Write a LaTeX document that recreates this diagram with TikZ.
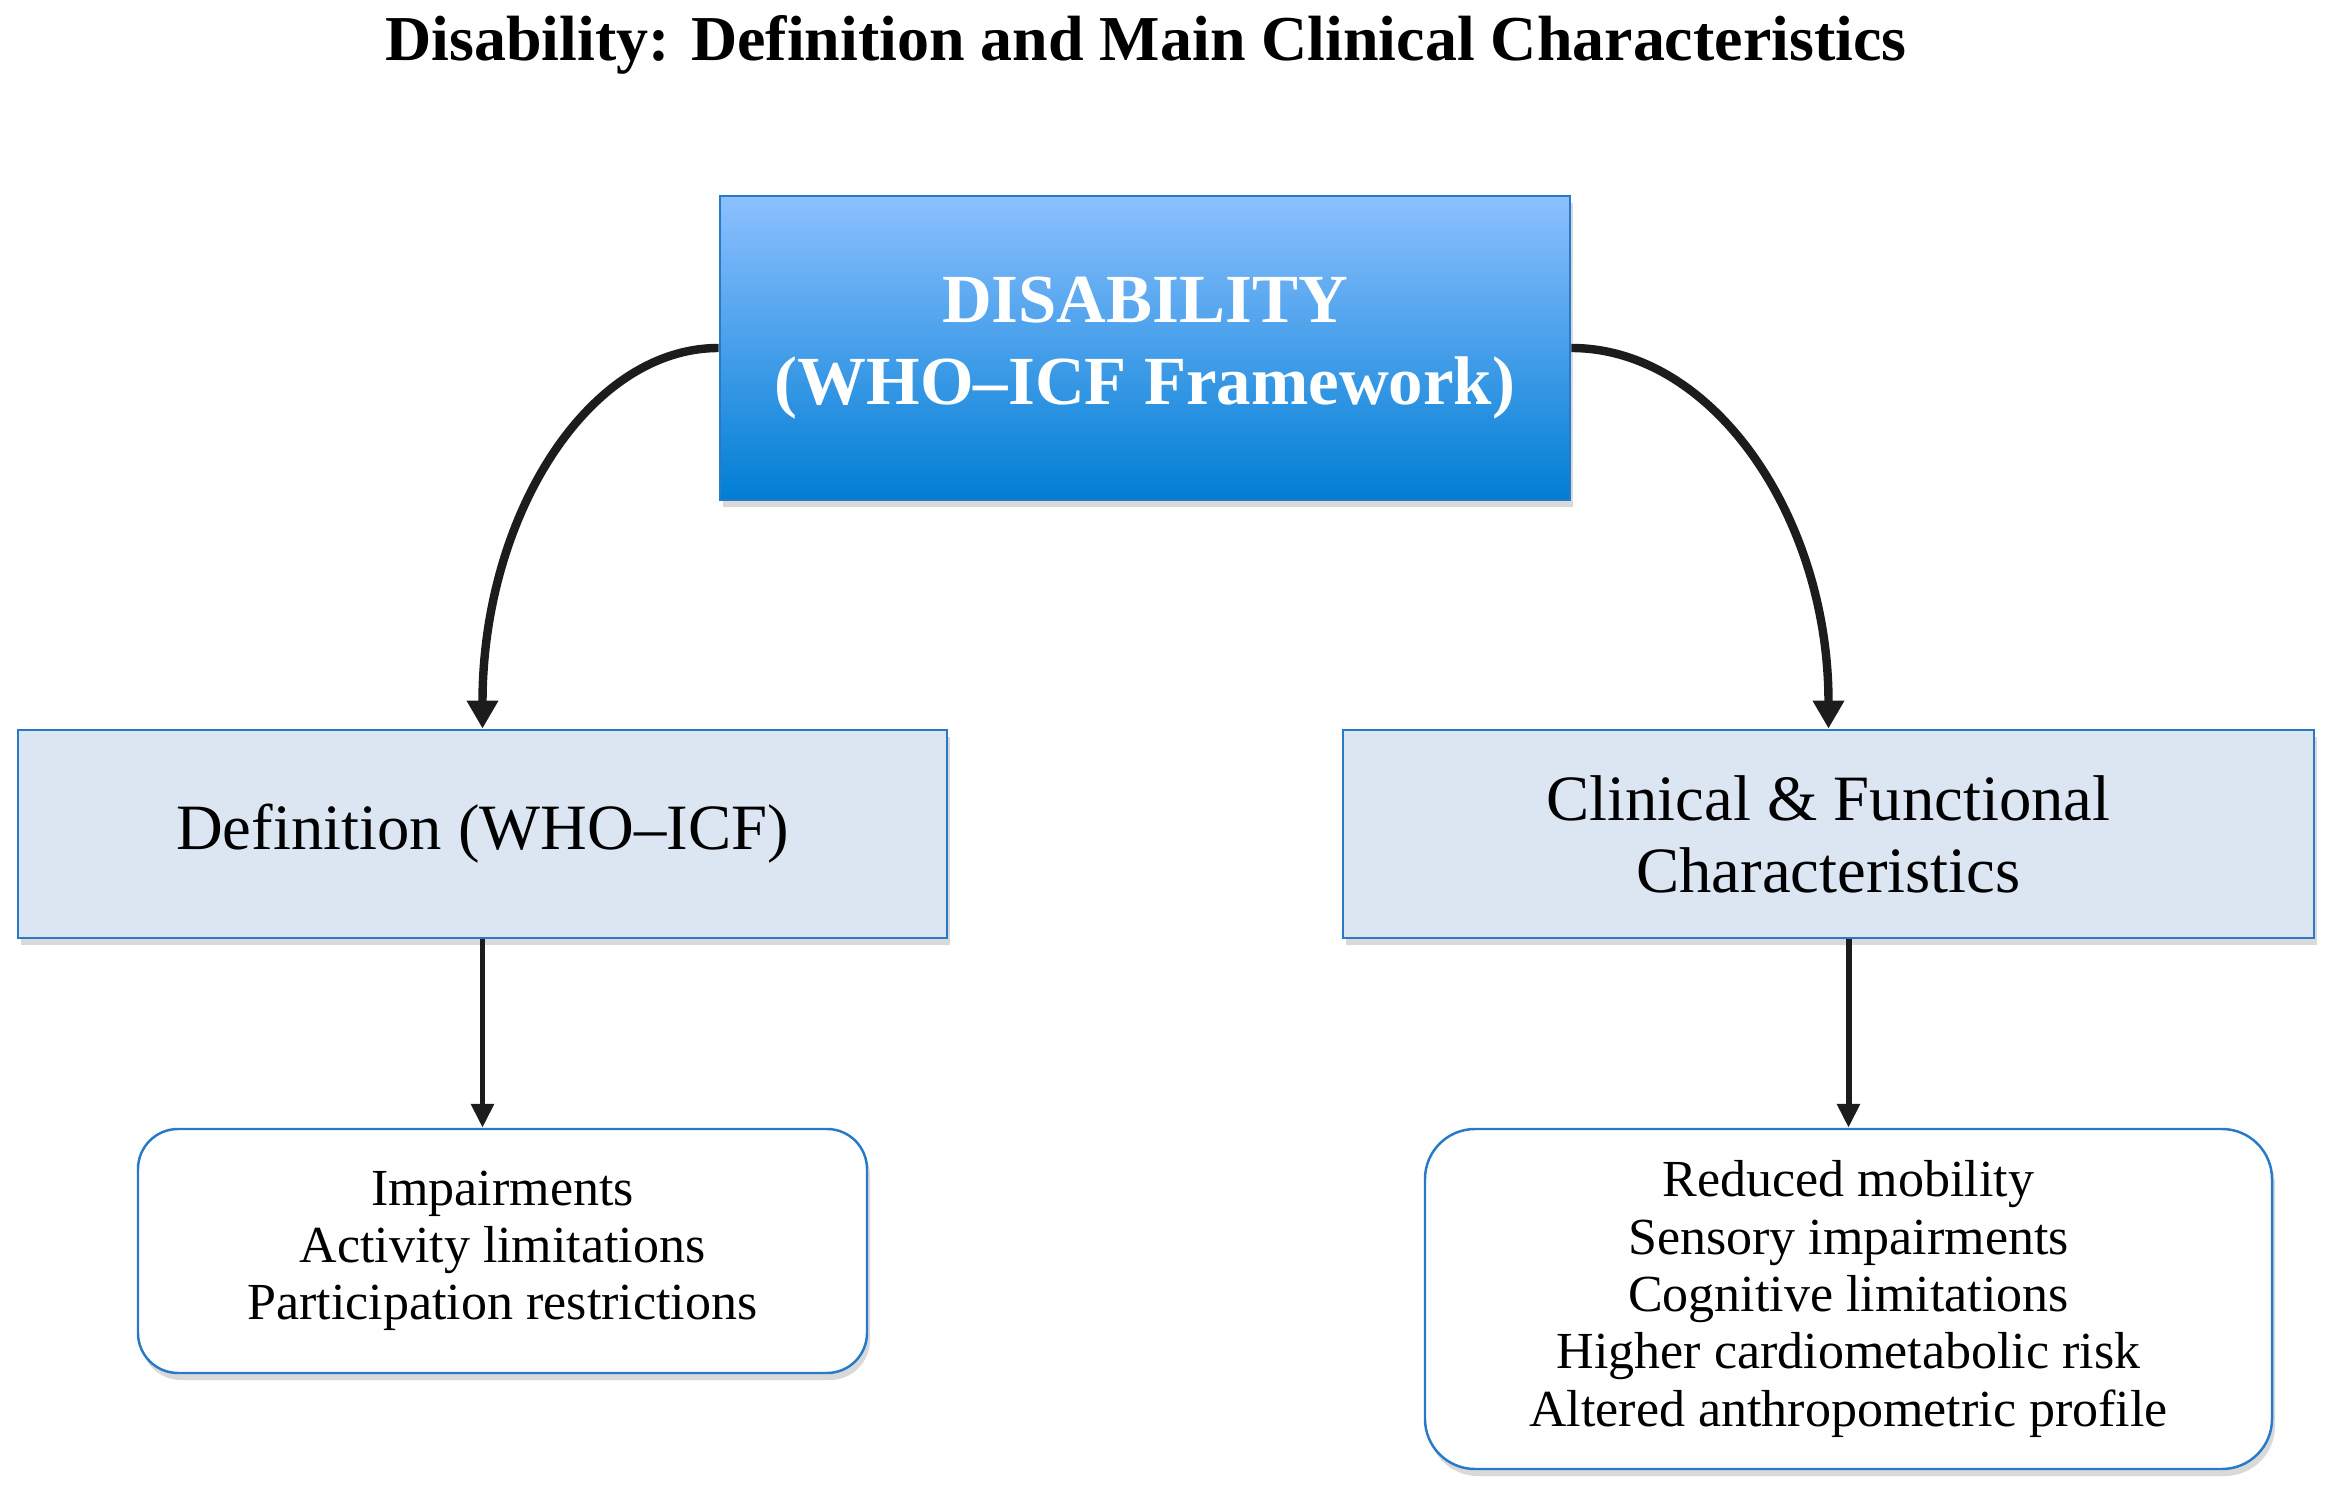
\documentclass[tikz,border=0pt]{standalone}
\usepackage{fontspec}
\setmainfont{Liberation Serif}
\usetikzlibrary{arrows.meta,positioning,shadows}
\definecolor{skytop}{RGB}{140,192,255}
\definecolor{skybot}{RGB}{0,126,212}
\definecolor{edgeblue}{RGB}{40,122,200}
\definecolor{paleblue}{RGB}{220,230,242}
\definecolor{inkgray}{RGB}{28,28,28}

\begin{document}
\begin{tikzpicture}[
  mainbox/.style={
    draw=edgeblue,
    line width=.8pt,
    top color=skytop,
    bottom color=skybot,
    minimum width=8.5cm,
    minimum height=3.04cm,
    inner sep=0pt,
    align=center,
    text=white,
    font=\fontsize{19.6}{23.5}\selectfont\bfseries,
    drop shadow={shadow xshift=.03cm,shadow yshift=-.07cm,opacity=.3}
  },
  headbox/.style={
    draw=edgeblue,
    line width=.8pt,
    fill=paleblue,
    minimum height=2.08cm,
    inner sep=0pt,
    align=center,
    font=\fontsize{18.4}{20.5}\selectfont,
    drop shadow={shadow xshift=.03cm,shadow yshift=-.07cm,opacity=.3}
  },
  listbox/.style={
    draw=edgeblue,
    line width=.7pt,
    fill=white,
    rounded corners=.4cm,
    inner sep=0pt,
    align=center,
    font=\fontsize{14.8}{16.3}\selectfont,
    drop shadow={shadow xshift=.03cm,shadow yshift=-.07cm,opacity=.3}
  },
  bendarrow/.style={
    -{Triangle[width=.3cm,length=.28cm]},
    line width=2.4pt,
    draw=inkgray
  },
  downarrow/.style={
    -{Triangle[width=.22cm,length=.24cm]},
    line width=1.7pt,
    draw=inkgray
  }
]
\useasboundingbox (0,0) rectangle (23.32,-14.96);

\node[font=\fontsize{18.2}{20}\selectfont\bfseries] (ttl) at (11.46,-.45)
  {Disability: Definition and Main Clinical Characteristics};

\node[mainbox] (dis) at (11.45,-3.48) {DISABILITY\\(WHO–ICF Framework)};

\node[headbox,minimum width=9.29cm] (def) at (4.825,-8.34)
  {Definition (WHO–ICF)};
\node[headbox,minimum width=9.71cm] (clin) at (18.285,-8.34)
  {Clinical \& Functional\\Characteristics};

\node[listbox,minimum width=7.29cm,minimum height=2.44cm] (defl) at (5.025,-12.51)
  {Impairments\\Activity limitations\\Participation restrictions};
\node[listbox,minimum width=8.47cm,minimum height=3.40cm,rounded corners=.5cm]
  (clinl) at (18.485,-12.99)
  {Reduced mobility\\Sensory impairments\\Cognitive limitations\\
   Higher cardiometabolic risk\\Altered anthropometric profile};

\draw[bendarrow] (dis.west) .. controls +(-1.31,0) and +(0,2.11) .. (def.north);
\draw[bendarrow] (dis.east) .. controls +(1.42,0) and +(0,2.11) .. (clin.north);

\draw[downarrow] (def.south) -- (def.south |- defl.north);
\draw[downarrow] (clinl.north |- clin.south) -- (clinl.north);
\end{tikzpicture}
\end{document}
